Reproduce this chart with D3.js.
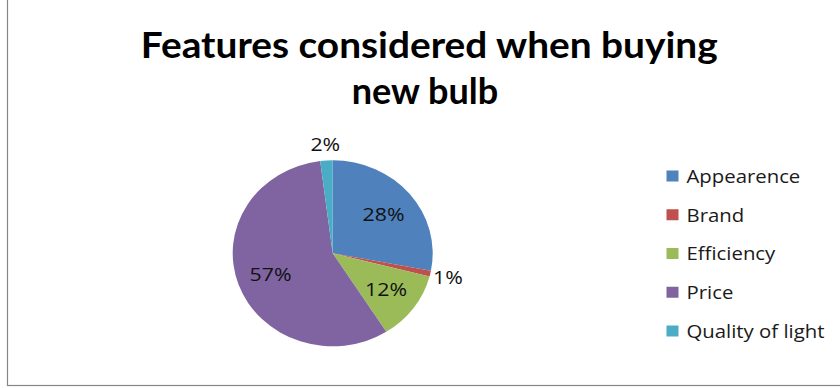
<!DOCTYPE html>
<html>
<head>
<meta charset="utf-8">
<script src="https://cdn.jsdelivr.net/npm/d3@7"></script>
<style>
  html, body { margin: 0; padding: 0; background: #ffffff; }
  svg { display: block; }
</style>
</head>
<body>
<svg id="chart" width="840" height="388"></svg>
<script>
// Survey: features considered when buying a new bulb (percent of answers)
const categories = ["Appearence", "Brand", "Efficiency", "Price", "Quality of light"];
const values = [28, 1, 12, 57, 2];
const colors = ["#4F81BD", "#C0504D", "#9BBB59", "#8064A2", "#4BACC6"];
const titleLines = ["Features considered when buying", "new bulb"];

const svg = d3.select("#chart");
const W = 840, H = 388;

// Widen a text run horizontally by a factor, keeping its glyph height
function widen(sel, factor) {
  sel.each(function () {
    const n = this.getComputedTextLength();
    d3.select(this)
      .attr("textLength", n * factor)
      .attr("lengthAdjust", "spacingAndGlyphs");
  });
}

// Chart frame (left and bottom edges visible, top/right run off the page)
svg.append("rect")
  .attr("x", 7.5).attr("y", -10)
  .attr("width", W + 20).attr("height", 395.5)
  .attr("fill", "#ffffff")
  .attr("stroke", "#868686")
  .attr("stroke-width", 1.2);

// Title, two centred lines
const titleLayout = [
  { x: 140.7, y: 57.7, len: 577 },
  { x: 351.7, y: 104.3, len: 146.5 }
];
svg.append("g").selectAll("text")
  .data(titleLines)
  .join("text")
  .attr("x", (d, i) => titleLayout[i].x)
  .attr("y", (d, i) => titleLayout[i].y)
  .attr("textLength", (d, i) => titleLayout[i].len)
  .attr("lengthAdjust", "spacingAndGlyphs")
  .attr("font-family", "Lato, 'Open Sans', sans-serif")
  .attr("font-weight", 700)
  .attr("font-size", 37)
  .attr("fill", "#000000")
  .text(d => d);

// Pie: slightly wider than tall
const cx = 332.7, cy = 253.3;
const R = 93, stretchX = 100 / 93;

const pie = d3.pie().sort(null).value(d => d)
  .startAngle(0).endAngle(2 * Math.PI);
const arcs = pie(values);

const arc = d3.arc().innerRadius(0).outerRadius(R);

const pieG = svg.append("g")
  .attr("transform", `translate(${cx},${cy}) scale(${stretchX},1)`);

pieG.selectAll("path")
  .data(arcs)
  .join("path")
  .attr("d", arc)
  .attr("fill", (d, i) => colors[i]);

// Data labels: inside for large slices, just outside for small ones
const total = d3.sum(values);
const labelPos = d => {
  const share = d.value / total;
  const r = share < 0.05 ? R * 1.18 : R * 0.66;
  const a = (d.startAngle + d.endAngle) / 2;
  return [cx + stretchX * r * Math.sin(a), cy - r * Math.cos(a)];
};

svg.append("g").selectAll("text")
  .data(arcs)
  .join("text")
  .attr("x", d => labelPos(d)[0])
  .attr("y", d => labelPos(d)[1])
  .attr("dy", "0.36em")
  .attr("text-anchor", "middle")
  .attr("font-family", "'Open Sans', sans-serif")
  .attr("font-size", 19)
  .attr("fill", "#111111")
  .text(d => Math.round(d.value / total * 100) + "%")
  .call(widen, 1.12);

// Legend
const legendY = d3.scalePoint()
  .domain(categories)
  .range([176, 331]);

const legend = svg.append("g").selectAll("g")
  .data(categories)
  .join("g")
  .attr("transform", d => `translate(0,${legendY(d)})`);

legend.append("rect")
  .attr("x", 666.5).attr("y", -5.5)
  .attr("width", 12).attr("height", 11)
  .attr("fill", (d, i) => colors[i]);

legend.append("text")
  .attr("x", 686.5)
  .attr("y", 0)
  .attr("dy", "0.36em")
  .attr("font-family", "'Open Sans', sans-serif")
  .attr("font-size", 19)
  .attr("fill", "#1a1a1a")
  .text(d => d)
  .call(widen, 1.07);
</script>
</body>
</html>
